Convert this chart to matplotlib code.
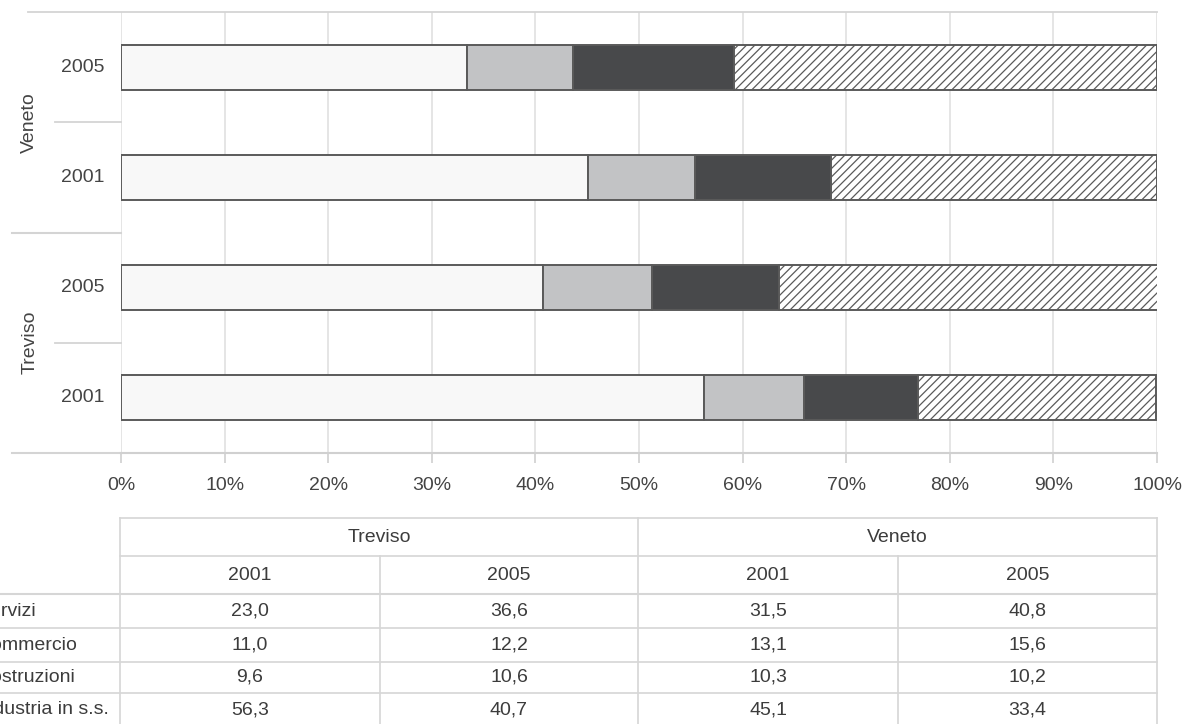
import matplotlib.pyplot as plt
import numpy as np

plt.rcParams['font.family'] = ['Liberation Sans', 'DejaVu Sans']
plt.rcParams['hatch.color'] = '#a8a8a8'
plt.rcParams['hatch.linewidth'] = 0.9

# dati (%) per settore
aree = ['Treviso', 'Treviso', 'Veneto', 'Veneto']
anni = ['2001', '2005', '2001', '2005']
settori = ['Industria in s.s.', 'Costruzioni', 'Commercio', 'Servizi']
industria = [56.3, 40.7, 45.1, 33.4]
costruzioni = [9.6, 10.6, 10.3, 10.2]
commercio = [11.0, 12.2, 13.1, 15.6]
servizi = [23.0, 36.6, 31.5, 40.8]

valori = [industria, costruzioni, commercio, servizi]
colori = ['#f8f8f8', '#c2c3c5', '#48494b', 'white']
tratteggi = [None, None, None, '////']

FS = 14
W, H = 1192, 724
fig = plt.figure(figsize=(W / 100, H / 100), dpi=100)
ax = fig.add_axes([121 / W, (H - 453) / H, (1157 - 121) / W, (453 - 12) / H])

y = np.arange(len(anni))
left = np.zeros(len(anni))
for v, c, h in zip(valori, colori, tratteggi):
    ax.barh(y, v, left=left, height=0.41, color=c, edgecolor='#5a5a5a',
            linewidth=1.4, hatch=h, zorder=3)
    left += np.array(v)

ax.set_xlim(0, 100)
ax.set_ylim(-0.5, len(anni) - 0.5)
ax.set_xticks(np.arange(0, 101, 10))
ax.set_xticklabels([f'{t}%' for t in range(0, 101, 10)], fontsize=FS, color='#444444')
ax.tick_params(axis='x', length=7, color='#d0d0d0', width=1.2, pad=10)
ax.set_yticks([])
ax.grid(axis='x', color='#e0e0e0', linewidth=1.2, zorder=0)
for s in ['left', 'right', 'top']:
    ax.spines[s].set_visible(False)
ax.spines['bottom'].set_color('#d0d0d0')
ax.spines['bottom'].set_linewidth(1.5)

# asse categorie a due livelli
tr = ax.get_yaxis_transform()
lc = '#d4d4d4'
ax.plot([-0.09, 1.0], [3.5, 3.5], transform=tr, color=lc, lw=1.3, clip_on=False)
ax.plot([-0.105, 0], [-0.5, -0.5], transform=tr, color=lc, lw=1.5, clip_on=False)
ax.plot([-0.105, 0], [1.5, 1.5], transform=tr, color=lc, lw=1.5, clip_on=False)
for yy in [0.5, 2.5]:
    ax.plot([-0.064, 0], [yy, yy], transform=tr, color=lc, lw=1.3, clip_on=False)
for i, a in enumerate(anni):
    ax.text(-0.016, y[i], a, transform=tr, ha='right', va='center',
            fontsize=FS, color='#444444')
for g, yy in [('Treviso', 0.5), ('Veneto', 2.5)]:
    ax.text(-0.088, yy, g, transform=tr, ha='center', va='center',
            rotation=90, fontsize=FS, color='#444444')

# tabella dei dati
tb = fig.add_axes([0, 0, 1, 1], facecolor='none')
tb.set_xlim(0, W)
tb.set_ylim(H, 0)
tb.axis('off')
gc = '#d6d6d6'
cols = [120, 380, 638, 898, 1157]
righe = [594, 628, 662, 693, 727]
tb.plot([120, 1157], [518, 518], color=gc, lw=1.2)
tb.plot([120, 1157], [556, 556], color=gc, lw=1.2)
for r in righe[:-1]:
    tb.plot([0, 1157], [r, r], color=gc, lw=1.5 if r == 594 else 1.2)
for x in [120, 638, 1157]:
    tb.plot([x, x], [518, H], color=gc, lw=1.2)
for x in [380, 898]:
    tb.plot([x, x], [556, H], color=gc, lw=1.2)

tc = '#3c3c3c'
tb.text((cols[0] + cols[2]) / 2, 537, 'Treviso', ha='center', va='center', fontsize=FS, color=tc)
tb.text((cols[2] + cols[4]) / 2, 537, 'Veneto', ha='center', va='center', fontsize=FS, color=tc)
for j, a in enumerate(anni):
    xc = (cols[j] + cols[j + 1]) / 2
    tb.text(xc, 575, a, ha='center', va='center', fontsize=FS, color=tc)

# etichette di riga: nel riferimento sono tagliate dal bordo sinistro
righe_tab = [servizi, commercio, costruzioni, industria]
nomi_tab = ['Servizi', 'Commercio', 'Costruzioni', 'Industria in s.s.']
for i, (nome, serie) in enumerate(zip(nomi_tab, righe_tab)):
    yc = (righe[i] + righe[i + 1]) / 2
    tb.text(-23, yc, nome, ha='left', va='center', fontsize=FS, color=tc)
    for j, v in enumerate(serie):
        xc = (cols[j] + cols[j + 1]) / 2
        tb.text(xc, yc, f'{v:.1f}'.replace('.', ','), ha='center', va='center',
                fontsize=FS, color=tc)

fig.savefig('out.png', dpi=100)
